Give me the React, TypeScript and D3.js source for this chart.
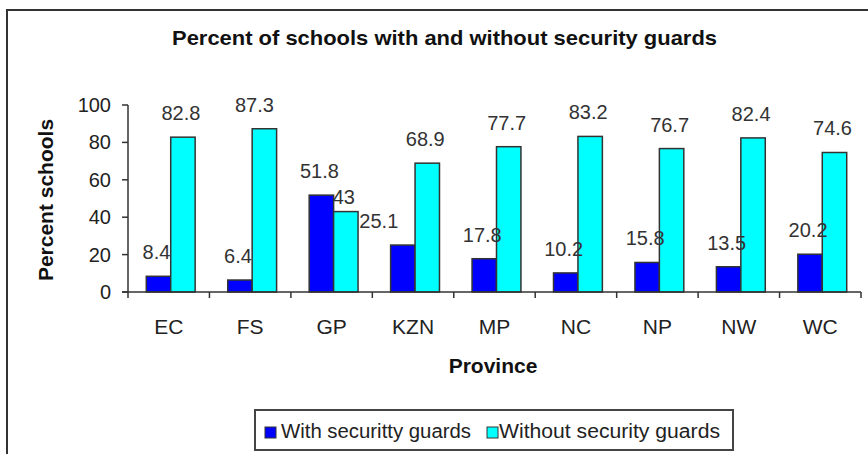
import React from "react";
import * as d3 from "d3";

const provinces = ["EC", "FS", "GP", "KZN", "MP", "NC", "NP", "NW", "WC"];
const withGuards = [8.4, 6.4, 51.8, 25.1, 17.8, 10.2, 15.8, 13.5, 20.2];
const withoutGuards = [82.8, 87.3, 43, 68.9, 77.7, 83.2, 76.7, 82.4, 74.6];
const yTicks = [0, 20, 40, 60, 80, 100];
const seriesNames = ["With securitty guards", "Without security guards"];

const COLORS = ["#0000FF", "#00FFFF"];
const FONT = "'Liberation Sans', Arial, sans-serif";

// manual label nudges seen in the original (series index, category) -> [dx, dy]
const labelNudge: Record<string, [number, number]> = {
  "1-FS": [-8, 0],
  "1-GP": [0, 9],
  "0-KZN": [-22, 0],
};

export default function App() {
  const W = 868;
  const H = 454;
  const left = 128;
  const right = 861;
  const top = 105;
  const bottom = 292;

  const x0 = d3
    .scaleBand<string>()
    .domain(provinces)
    .range([left, right])
    .paddingInner(0.4)
    .paddingOuter(0.2);
  const x1 = d3
    .scaleBand<number>()
    .domain([0, 1])
    .range([0, x0.bandwidth()]);
  const y = d3.scaleLinear().domain([0, 100]).range([bottom, top]);
  const step = (right - left) / provinces.length;
  const shift = 2;

  const series = [withGuards, withoutGuards];

  return (
    <svg
      width={W}
      height={H}
      style={{ position: "absolute", left: 0, top: 0, background: "#fff" }}
      fontFamily={FONT}
    >
      <rect x={0} y={0} width={W} height={H} fill="#fff" />
      <rect x={7} y={10} width={W + 20} height={H + 20} fill="none" stroke="#333" strokeWidth={2} />

      <text
        x={172}
        y={45}
        fontSize={21}
        fontWeight="bold"
        fill="#111"
        textLength={545}
        lengthAdjust="spacingAndGlyphs"
      >
        Percent of schools with and without security guards
      </text>

      {/* y axis */}
      <line x1={left} x2={left} y1={top} y2={bottom} stroke="#333" strokeWidth={1.5} />
      {yTicks.map((t) => (
        <g key={t}>
          <line x1={left - 6} x2={left} y1={y(t)} y2={y(t)} stroke="#333" strokeWidth={1.5} />
          <text x={111} y={y(t) + 7} textAnchor="end" fontSize={20} fill="#222">
            {t}
          </text>
        </g>
      ))}
      <text
        transform={`translate(53,200) rotate(-90)`}
        textAnchor="middle"
        fontSize={21}
        fontWeight="bold"
        fill="#111"
      >
        Percent schools
      </text>

      {/* bars */}
      {provinces.map((p, i) => (
        <g key={p} transform={`translate(${(x0(p) as number) + shift},0)`}>
          {series.map((s, si) => (
            <rect
              key={si}
              x={x1(si) as number}
              y={y(s[i])}
              width={x1.bandwidth()}
              height={bottom - y(s[i])}
              fill={COLORS[si]}
              stroke="#333"
              strokeWidth={1.5}
            />
          ))}
        </g>
      ))}

      {/* x axis */}
      <line x1={left - 6} x2={right} y1={bottom} y2={bottom} stroke="#333" strokeWidth={1.5} />
      {d3.range(provinces.length + 1).map((k) => (
        <line
          key={k}
          x1={left + k * step}
          x2={left + k * step}
          y1={bottom}
          y2={bottom + 6}
          stroke="#333"
          strokeWidth={1.5}
        />
      ))}
      {provinces.map((p) => (
        <text
          key={p}
          x={(x0(p) as number) + x0.bandwidth() / 2}
          y={334}
          textAnchor="middle"
          fontSize={21}
          fill="#222"
        >
          {p}
        </text>
      ))}

      {/* value labels */}
      {provinces.map((p, i) =>
        series.map((s, si) => {
          const n = labelNudge[`${si}-${p}`] || [0, 0];
          return (
            <text
              key={`${p}-${si}`}
              x={(x0(p) as number) + shift + (x1(si) as number) + x1.bandwidth() / 2 - 2 + n[0]}
              y={y(s[i]) - 17 + n[1]}
              textAnchor="middle"
              fontSize={20}
              fill="#333"
            >
              {s[i]}
            </text>
          );
        })
      )}

      <text x={493} y={373} textAnchor="middle" fontSize={21} fontWeight="bold" fill="#111">
        Province
      </text>

      {/* legend */}
      <rect x={255} y={410} width={478} height={40} fill="#fff" stroke="#444" strokeWidth={2} />
      {[265, 487].map((lx, si) => (
        <rect key={si} x={lx} y={427} width={11} height={11} fill={COLORS[si]} stroke="#333" strokeWidth={1} />
      ))}
      <text x={281} y={438} fontSize={20} fill="#222" textLength={190} lengthAdjust="spacingAndGlyphs">
        {seriesNames[0]}
      </text>
      <text x={499} y={438} fontSize={20} fill="#222" textLength={221} lengthAdjust="spacingAndGlyphs">
        {seriesNames[1]}
      </text>
    </svg>
  );
}
